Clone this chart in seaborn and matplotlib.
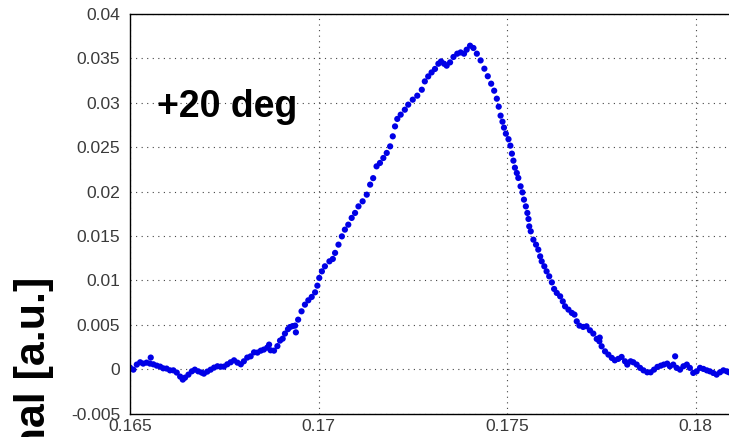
import numpy as np
import pandas as pd
import matplotlib
matplotlib.use("Agg")
import matplotlib.pyplot as plt
import seaborn as sns

# Measured signal versus position
position = [
    0.16500, 0.16509, 0.16518, 0.16527, 0.16535, 0.16544, 0.16553, 0.16555, 0.16562, 0.16571,
    0.16580, 0.16588, 0.16597, 0.16606, 0.16615, 0.16624, 0.16633, 0.16640, 0.16646, 0.16655,
    0.16664, 0.16672, 0.16681, 0.16690, 0.16696, 0.16705, 0.16714, 0.16723, 0.16732, 0.16741,
    0.16749, 0.16758, 0.16767, 0.16776, 0.16785, 0.16794, 0.16802, 0.16811, 0.16820, 0.16829,
    0.16838, 0.16847, 0.16855, 0.16864, 0.16869, 0.16873, 0.16882, 0.16891, 0.16898, 0.16905,
    0.16911, 0.16919, 0.16924, 0.16931, 0.16938, 0.16940, 0.16946, 0.16955, 0.16964, 0.16973,
    0.16982, 0.16991, 0.16997, 0.17002, 0.17009, 0.17017, 0.17029, 0.17038, 0.17044, 0.17053,
    0.17062, 0.17070, 0.17079, 0.17088, 0.17097, 0.17106, 0.17117, 0.17128, 0.17137, 0.17145,
    0.17154, 0.17163, 0.17172, 0.17181, 0.17190, 0.17197, 0.17203, 0.17209, 0.17218, 0.17229,
    0.17238, 0.17250, 0.17262, 0.17274, 0.17282, 0.17291, 0.17300, 0.17309, 0.17318, 0.17325,
    0.17333, 0.17340, 0.17349, 0.17358, 0.17368, 0.17377, 0.17386, 0.17393, 0.17402, 0.17411,
    0.17420, 0.17430, 0.17440, 0.17449, 0.17458, 0.17466, 0.17473, 0.17478, 0.17483, 0.17488,
    0.17492, 0.17497, 0.17504, 0.17509, 0.17513, 0.17517, 0.17521, 0.17526, 0.17530, 0.17536,
    0.17541, 0.17545, 0.17550, 0.17554, 0.17557, 0.17559, 0.17563, 0.17570, 0.17577, 0.17583,
    0.17588, 0.17592, 0.17599, 0.17605, 0.17612, 0.17619, 0.17625, 0.17632, 0.17641, 0.17648,
    0.17654, 0.17663, 0.17672, 0.17679, 0.17685, 0.17692, 0.17702, 0.17711, 0.17720, 0.17729,
    0.17738, 0.17745, 0.17746, 0.17751, 0.17760, 0.17769, 0.17778, 0.17786, 0.17795, 0.17804,
    0.17813, 0.17819, 0.17828, 0.17835, 0.17844, 0.17853, 0.17862, 0.17872, 0.17881, 0.17890,
    0.17899, 0.17908, 0.17916, 0.17925, 0.17932, 0.17941, 0.17946, 0.17950, 0.17959, 0.17968,
    0.17977, 0.17985, 0.17994, 0.18003, 0.18012, 0.18021, 0.18030, 0.18038, 0.18047, 0.18056,
    0.18065, 0.18074, 0.18083, 0.18089, 0.18097,
]
signal = [
    0.00017, -0.00006, 0.00051, 0.00077, 0.00062, 0.00073, 0.00062, 0.00130, 0.00054, 0.00039,
    0.00028, 0.00009, 0.00006, -0.00014, -0.00014, -0.00039, -0.00084, -0.00118, -0.00096, -0.00062,
    -0.00025, -0.00006, -0.00025, -0.00039, -0.00051, -0.00028, -0.00006, 0.00017, 0.00032, 0.00028,
    0.00028, 0.00054, 0.00077, 0.00099, 0.00073, 0.00054, 0.00088, 0.00130, 0.00144, 0.00189,
    0.00186, 0.00208, 0.00220, 0.00242, 0.00276, 0.00212, 0.00208, 0.00259, 0.00321, 0.00343,
    0.00400, 0.00450, 0.00473, 0.00484, 0.00490, 0.00414, 0.00557, 0.00651, 0.00726, 0.00775,
    0.00813, 0.00865, 0.00940, 0.01027, 0.01101, 0.01158, 0.01214, 0.01241, 0.01309, 0.01402,
    0.01495, 0.01571, 0.01627, 0.01703, 0.01759, 0.01833, 0.01890, 0.01965, 0.02078, 0.02151,
    0.02284, 0.02322, 0.02378, 0.02435, 0.02509, 0.02622, 0.02734, 0.02818, 0.02866, 0.02922,
    0.02979, 0.03035, 0.03080, 0.03147, 0.03241, 0.03297, 0.03342, 0.03381, 0.03440, 0.03466,
    0.03440, 0.03418, 0.03455, 0.03516, 0.03553, 0.03567, 0.03553, 0.03598, 0.03643, 0.03617,
    0.03553, 0.03477, 0.03384, 0.03299, 0.03215, 0.03136, 0.03046, 0.02956, 0.02855, 0.02787,
    0.02720, 0.02652, 0.02590, 0.02517, 0.02427, 0.02348, 0.02269, 0.02209, 0.02153, 0.02059,
    0.01991, 0.01909, 0.01833, 0.01759, 0.01691, 0.01608, 0.01552, 0.01458, 0.01402, 0.01346,
    0.01270, 0.01214, 0.01158, 0.01101, 0.01045, 0.00977, 0.00903, 0.00858, 0.00820, 0.00763,
    0.00707, 0.00670, 0.00633, 0.00614, 0.00538, 0.00490, 0.00475, 0.00482, 0.00437, 0.00400,
    0.00340, 0.00313, 0.00355, 0.00257, 0.00200, 0.00163, 0.00126, 0.00099, 0.00115, 0.00137,
    0.00088, 0.00051, 0.00088, 0.00077, 0.00051, 0.00014, -0.00014, -0.00036, -0.00036, -0.00006,
    0.00025, 0.00039, 0.00051, 0.00062, 0.00032, 0.00051, 0.00144, 0.00014, -0.00006, 0.00032,
    0.00051, 0.00014, -0.00043, -0.00025, 0.00014, 0.00002, -0.00014, -0.00025, -0.00043, -0.00062,
    -0.00036, -0.00014, -0.00025, -0.00036, -0.00030,
]

x_ticks = [0.165, 0.17, 0.175, 0.18]
x_tick_labels = ["0.165", "0.17", "0.175", "0.18"]
y_ticks = [-0.005, 0.0, 0.005, 0.01, 0.015, 0.02, 0.025, 0.03, 0.035, 0.04]
y_tick_labels = ["-0.005", "0", "0.005", "0.01", "0.015", "0.02", "0.025", "0.03", "0.035", "0.04"]

df = pd.DataFrame({"position": position, "signal": signal})

sns.set_style("white")
plt.rcParams["font.family"] = ["Liberation Sans", "DejaVu Sans"]

W, H = 729, 437
fig = plt.figure(figsize=(W / 100, H / 100), dpi=100)

# axes run off the right edge of the canvas
left_px, top_px, bottom_px = 130, 14, 413.5
px_per_unit = 188.5 / 0.005
x_min, x_max = 0.165, 0.185
width_px = (x_max - x_min) * px_per_unit
ax = fig.add_axes([left_px / W, (H - bottom_px) / H, width_px / W, (bottom_px - top_px) / H])

sns.scatterplot(data=df, x="position", y="signal", ax=ax, color="#0000e6",
                s=20, marker="o", linewidth=0, edgecolor="none", legend=False)

ax.set_xlim(x_min, x_max)
ax.set_ylim(-0.005, 0.04)
ax.set_xticks(x_ticks)
ax.set_xticklabels(x_tick_labels)
ax.set_yticks(y_ticks)
ax.set_yticklabels(y_tick_labels)
ax.set_xlabel("")
ax.set_ylabel("")

ax.grid(True, color="#444444", linestyle=(0, (1, 4)), linewidth=0.8)
ax.set_axisbelow(True)
ax.tick_params(direction="in", length=4, width=0.8, colors="black",
               labelcolor="#3a3a3a", labelsize=12.6)
ax.tick_params(axis="y", pad=7)
ax.tick_params(axis="x", pad=4)
for side in ["left", "bottom", "top", "right"]:
    ax.spines[side].set_color("black")
    ax.spines[side].set_linewidth(1.0)

fig.text(157 / W, 1 - 117 / H, "+20 deg", fontsize=27, fontweight="bold",
         ha="left", va="baseline", color="black")

fig.text(45 / W, 1 - 277 / H, "Signal [a.u.]", fontsize=31, fontweight="bold",
         rotation=90, rotation_mode="anchor", ha="right", va="baseline", color="black")

fig.savefig("out.png", dpi=100)
